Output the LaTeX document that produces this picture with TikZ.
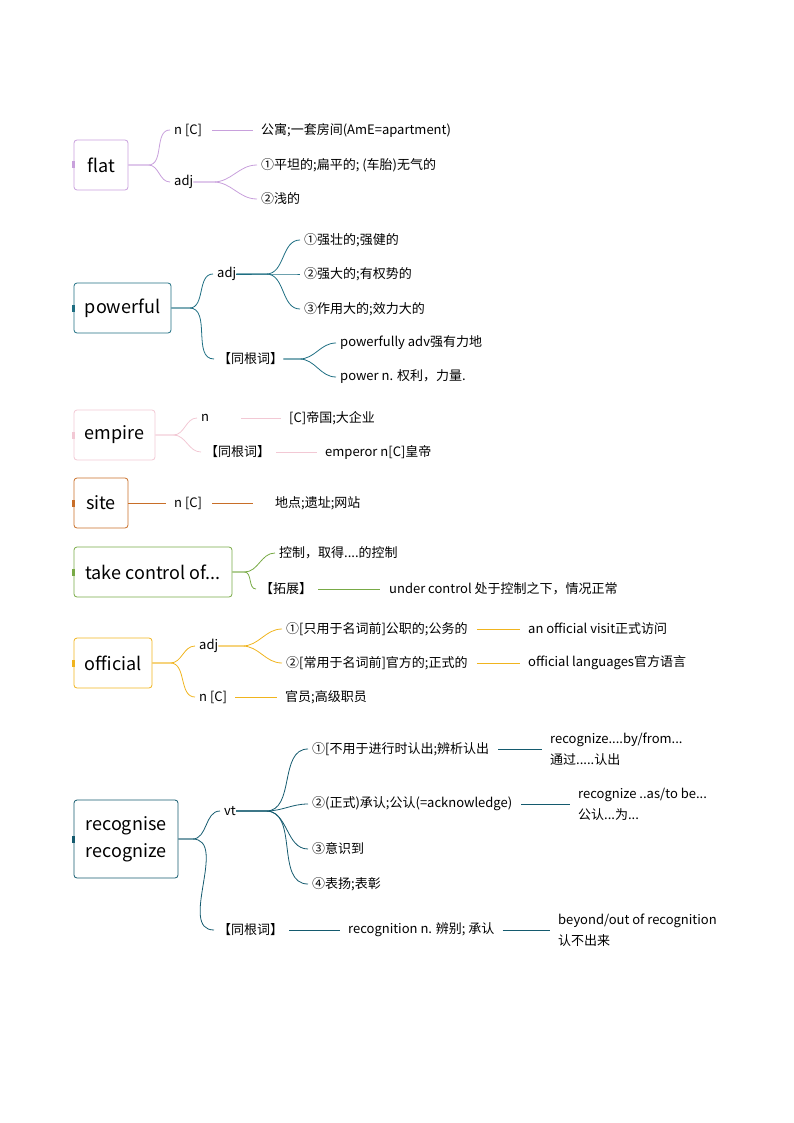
\documentclass[tikz,border=0pt]{standalone}
\usepackage{fontspec}
\setmainfont{Noto Sans CJK SC}
\usetikzlibrary{positioning,calc}
\definecolor{cflat}{RGB}{200,160,220}
\definecolor{cpow}{RGB}{30,110,130}
\definecolor{cemp}{RGB}{242,200,212}
\definecolor{csite}{RGB}{200,110,40}
\definecolor{ctake}{RGB}{120,170,70}
\definecolor{coff}{RGB}{240,180,30}
\definecolor{crec}{RGB}{20,90,110}
\tikzset{
  word/.style={draw=#1, rounded corners=3pt, line width=0.8pt, minimum height=50,
    inner xsep=10, font=\fontsize{18}{27}\selectfont, align=center},
  leaf/.style={anchor=west, inner xsep=0, inner ysep=2, font=\fontsize{13}{21}\selectfont, align=left},
  link/.style={draw=#1, line width=0.8pt},
}
% parent -> child by a short stem and a soft bend
\newcommand\brch[4][12]{\draw[link=#2] (#3.east) -- ++(#1,0) to[out=0,in=180] ($(#4.west)+(-4,0)$);}
\newcommand\tick[2]{\fill[#1] ($(#2.west)+(-1.5,-3.5)$) rectangle ++(3,7);}

\begin{document}
\begin{tikzpicture}[x=1pt,y=-1pt]
\useasboundingbox (0,0) rectangle (794,1123);

% flat
\node[word=cflat, minimum width=54] (flat) at (101,165) {flat};
\tick{cflat}{flat}
\node[leaf] (flatn) at (174,130) {n [C]};
\node[leaf] (flata) at (174,182) {adj};
\node[leaf] (flatn1) at (261,130) {公寓;一套房间(AmE=apartment)};
\node[leaf] (flata1) at (261,165) {①平坦的;扁平的; (车胎)无气的};
\node[leaf] (flata2) at (261,199) {②浅的};
\brch[20]{cflat}{flat}{flatn} \brch[20]{cflat}{flat}{flata}
\draw[link=cflat] ($(flatn.east)+(10,0)$) -- ($(flatn1.west)+(-8,0)$);
\brch[20]{cflat}{flata}{flata1} \brch[20]{cflat}{flata}{flata2}

% powerful
\node[word=cpow, minimum width=97] (pow) at (122.5,308) {powerful};
\tick{cpow}{pow}
\node[leaf] (powa) at (217,274) {adj};
\node[leaf] (powr) at (218,359) {【同根词】};
\node[leaf] (powa1) at (304,240) {①强壮的;强健的};
\node[leaf] (powa2) at (304,274) {②强大的;有权势的};
\node[leaf] (powa3) at (304,309) {③作用大的;效力大的};
\node[leaf] (powr1) at (340,343) {powerfully adv强有力地};
\node[leaf] (powr2) at (340,377) {power n. 权利，力量.};
\brch[18]{cpow}{pow}{powa} \brch[18]{cpow}{pow}{powr}
\foreach \c in {powa1,powa2,powa3} {\brch[30]{cpow}{powa}{\c}}
\foreach \c in {powr1,powr2} {\brch[16]{cpow}{powr}{\c}}

% empire
\node[word=cemp, minimum width=81] (emp) at (114.5,435) {empire};
\tick{cemp}{emp}
\node[leaf] (empn) at (201,418) {n};
\node[leaf] (empr) at (205,452) {【同根词】};
\node[leaf] (empn1) at (289,418) {[C]帝国;大企业};
\node[leaf] (empr1) at (325,452) {emperor n[C]皇帝};
\brch[18]{cemp}{emp}{empn} \brch[18]{cemp}{emp}{empr}
\draw[link=cemp] ($(empn.east)+(32,0)$) -- ($(empn1.west)+(-8,0)$);
\draw[link=cemp] ($(empr.east)+(6,0)$) -- ($(empr1.west)+(-8,0)$);

% site
\node[word=csite, minimum width=54] (site) at (101,503) {site};
\tick{csite}{site}
\node[leaf] (siten) at (174,503) {n [C]};
\node[leaf] (siten1) at (275,503) {地点;遗址;网站};
\draw[link=csite] (site.east) -- ($(siten.west)+(-8,0)$);
\draw[link=csite] ($(siten.east)+(10,0)$) -- ($(siten1.west)+(-22,0)$);

% take control of...
\node[word=ctake, minimum width=158] (take) at (153,572) {take control of...};
\tick{ctake}{take}
\node[leaf] (take1) at (279,553) {控制，取得....的控制};
\node[leaf] (takex) at (260,589) {【拓展】};
\node[leaf] (takex1) at (389,589) {under control 处于控制之下，情况正常};
\brch[12]{ctake}{take}{take1} \brch[12]{ctake}{take}{takex}
\draw[link=ctake] ($(takex.east)+(6,0)$) -- ($(takex1.west)+(-9,0)$);

% official
\node[word=coff, minimum width=78] (off) at (113,663) {official};
\tick{coff}{off}
\node[leaf] (offa) at (199,646) {adj};
\node[leaf] (offn) at (199,697) {n [C]};
\node[leaf] (offa1) at (286,629) {①[只用于名词前]公职的;公务的};
\node[leaf] (offa2) at (286,663) {②[常用于名词前]官方的;正式的};
\node[leaf] (offe1) at (528,629) {an official visit正式访问};
\node[leaf] (offe2) at (528,663) {official languages官方语言};
\node[leaf] (offn1) at (285,697) {官员;高级职员};
\brch[18]{coff}{off}{offa} \brch[18]{coff}{off}{offn}
\brch[24]{coff}{offa}{offa1} \brch[24]{coff}{offa}{offa2}
\draw[link=coff] ($(offa1.east)+(9,0)$) -- ($(offe1.west)+(-8,0)$);
\draw[link=coff] ($(offa2.east)+(9,0)$) -- ($(offe2.west)+(-8,0)$);
\draw[link=coff] ($(offn.east)+(8,0)$) -- ($(offn1.west)+(-8,0)$);

% recognise
\node[word=crec, minimum width=104, minimum height=78] (rec) at (126,839) {recognise\\recognize};
\tick{crec}{rec}
\node[leaf] (recv) at (224,811) {vt};
\node[leaf] (recr) at (218,930) {【同根词】};
\node[leaf] (recv1) at (312,749) {①[不用于进行时认出;辨析认出};
\node[leaf] (recv2) at (312,804) {②(正式)承认;公认(=acknowledge)};
\node[leaf] (recv3) at (312,849) {③意识到};
\node[leaf] (recv4) at (312,884) {④表扬;表彰};
\node[leaf] (rece1) at (550,749) {recognize....by/from...\\通过.....认出};
\node[leaf] (rece2) at (578,804) {recognize ..as/to be...\\公认...为...};
\node[leaf] (recr1) at (348,930) {recognition n. 辨别; 承认};
\node[leaf] (recr2) at (558,930) {beyond/out of recognition\\认不出来};
\brch[14]{crec}{rec}{recv} \brch[14]{crec}{rec}{recr}
\foreach \c in {recv1,recv2,recv3,recv4} {\brch[30]{crec}{recv}{\c}}
\draw[link=crec] ($(recv1.east)+(9,0)$) -- ($(rece1.west)+(-8,0)$);
\draw[link=crec] ($(recv2.east)+(9,0)$) -- ($(rece2.west)+(-8,0)$);
\draw[link=crec] ($(recr.east)+(6,0)$) -- ($(recr1.west)+(-8,0)$);
\draw[link=crec] ($(recr1.east)+(8,0)$) -- ($(recr2.west)+(-8,0)$);
\end{tikzpicture}
\end{document}
